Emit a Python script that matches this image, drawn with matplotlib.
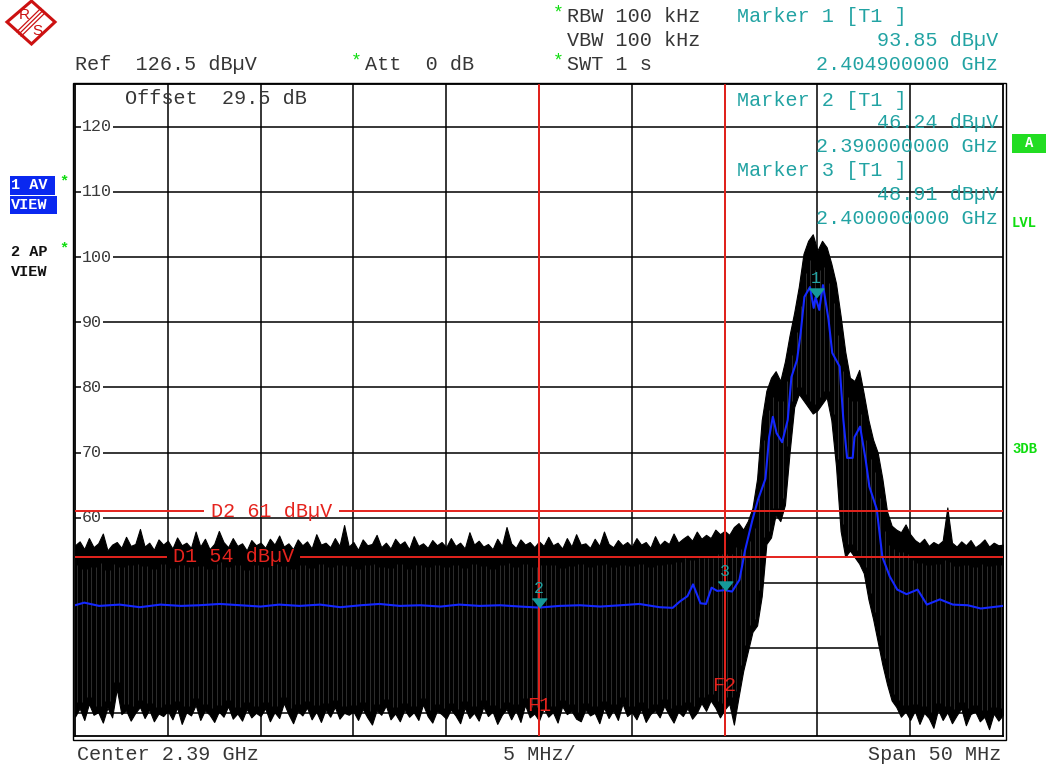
import matplotlib
matplotlib.use("Agg")
import matplotlib.pyplot as plt
import matplotlib.transforms as mtransforms
from matplotlib.patches import Polygon, Rectangle
from matplotlib.lines import Line2D
import numpy as np

W, H = 1048, 768
MONO = "Liberation Mono"
TEAL = "#22a3a3"
RED = "#e5231d"
GREEN = "#10dd10"
BLUE = "#1428ff"
INK = "#363636"

# sweep settings
f_start, f_stop = 2.365, 2.415          # GHz, center 2.39 / span 50 MHz
ref_level, bottom_level = 126.5, 26.5   # dBuV

# trace 2 (AP, max-hold) upper / lower envelope, 0.25 MHz per point
ap_hi = [
    55.8, 56.4, 55.2, 56.9, 55.5, 56.1, 57.6, 55.0, 55.9, 56.3, 55.4, 57.1, 55.7, 56.0, 58.3, 55.6, 56.2, 55.1, 56.7, 55.9,
    56.5, 55.3, 57.0, 55.8, 56.2, 55.4, 57.9, 55.6, 56.8, 55.2, 56.0, 58.0, 56.3, 55.5, 56.9, 55.7, 56.1, 55.0, 56.6, 55.8,
    56.2, 55.4, 56.8, 55.9, 57.3, 55.6, 56.1, 55.2, 56.7, 55.8, 56.4, 55.3, 57.5, 55.9, 56.2, 55.5, 56.9, 55.7, 58.9, 55.6,
    56.3, 55.1, 56.7, 55.8, 56.0, 57.4, 55.5, 56.2, 55.3, 56.8, 55.9, 56.4, 55.2, 57.2, 55.7, 56.1, 55.4, 56.6, 55.8, 56.3,
    55.5, 56.9, 55.7, 56.2, 55.3, 57.8, 55.9, 56.5, 55.6, 56.0, 55.2, 56.8, 55.7, 58.6, 56.1, 55.4, 56.7, 55.9, 56.3, 55.5,
    56.4, 55.7, 57.1, 55.8, 56.2, 55.3, 56.9, 55.6, 57.5, 55.9, 56.1, 55.4, 56.8, 55.7, 57.9, 56.0, 55.5, 56.6, 55.8, 56.3,
    55.6, 56.9, 55.9, 56.3, 55.4, 57.2, 55.8, 56.5, 56.0, 57.6, 56.2, 56.8, 57.3, 56.5, 57.9, 56.8, 57.4, 56.9, 58.2, 57.5,
    58.0, 57.4, 58.6, 59.2, 58.2, 59.5, 61.5, 66.0, 75.0, 79.5, 81.5, 82.5, 81.0, 84.0, 88.0, 91.5, 95.5, 100.5, 102.5, 103.5,
    101.0, 102.5, 101.5, 99.0, 96.0, 91.0, 85.5, 81.5, 81.0, 82.7, 79.0, 75.0, 72.0, 70.0, 66.0, 61.0, 58.8, 58.2, 57.8, 59.0,
    57.5, 56.6, 56.1, 56.8, 55.7, 56.3, 55.9, 56.5, 61.6, 56.2, 55.6, 56.4, 55.8, 56.6, 55.5, 56.0, 56.7, 55.6, 56.2, 55.8,
    55.9,
]
ap_lo = [
    29.5, 30.8, 29.0, 31.5, 29.8, 30.2, 28.6, 30.9, 29.4, 33.8, 29.9, 30.5, 28.9, 30.1, 31.0, 29.3, 30.6, 28.8, 30.0, 29.6,
    30.4, 29.1, 30.9, 28.4, 30.2, 29.7, 31.3, 29.0, 30.5, 29.8, 28.7, 30.3, 29.5, 31.1, 29.2, 30.0, 28.9, 30.7, 29.4, 30.1,
    29.6, 30.8, 28.8, 30.2, 29.3, 31.6, 29.9, 28.5, 30.4, 29.7, 30.9, 29.1, 30.3, 28.7, 30.6, 29.5, 31.0, 29.2, 30.1, 29.8,
    30.3, 29.0, 30.7, 29.4, 28.3, 30.5, 29.8, 31.2, 29.1, 30.0, 28.8, 30.6, 29.5, 30.2, 29.0, 31.4, 29.6, 28.6, 30.4, 29.9,
    29.2, 30.6, 29.7, 28.5, 30.9, 29.3, 30.1, 28.9, 31.0, 29.6, 30.3, 28.4, 29.8, 30.7, 29.1, 30.5, 28.7, 31.3, 29.4, 30.0,
    28.9, 30.8, 29.5, 30.2, 28.6, 31.1, 29.9, 30.4, 29.2, 28.8, 30.6, 29.7, 30.1, 28.5, 30.9, 29.3, 30.5, 29.0, 31.5, 29.6,
    30.2, 29.1, 30.7, 28.7, 29.9, 30.5, 29.4, 31.2, 29.8, 28.6, 30.3, 29.6, 30.8, 29.2, 30.1, 31.6, 30.4, 32.0, 30.9, 29.4,
    30.6, 31.5, 28.3, 32.5, 36.5, 39.5, 42.5, 43.5, 48.0, 56.0, 57.0, 60.5, 59.5, 62.0, 70.0, 77.0, 79.0, 78.0, 77.0, 76.0,
    76.5, 77.5, 78.5, 75.0, 68.0, 58.0, 54.0, 55.0, 54.0, 53.0, 51.5, 47.5, 44.5, 41.0, 37.5, 34.5, 32.0, 31.0, 29.5, 30.3,
    29.0, 30.4, 28.4, 30.1, 29.3, 27.8, 30.6, 29.0, 30.2, 28.5, 29.7, 30.8, 28.2, 29.9, 30.3, 28.8, 29.5, 27.6, 30.0, 28.9,
    29.8,
]
ap_freq = np.linspace(f_start, f_stop, len(ap_hi))

# trace 1 (AV)
av_freq = [
    2.3650, 2.3655, 2.3663, 2.3674, 2.3685, 2.3696, 2.3707, 2.3717, 2.3728, 2.3739,
    2.3750, 2.3760, 2.3771, 2.3782, 2.3793, 2.3804, 2.3814, 2.3825, 2.3836, 2.3847,
    2.3857, 2.3868, 2.3879, 2.3890, 2.3900, 2.3911, 2.3922, 2.3933, 2.3944, 2.3954,
    2.3965, 2.3972, 2.3976, 2.3980, 2.3983, 2.3987, 2.3990, 2.3993, 2.3996, 2.4000,
    2.4004, 2.4008, 2.4011, 2.4015, 2.4018, 2.4022, 2.4024, 2.4026, 2.4028, 2.4031,
    2.4034, 2.4036, 2.4039, 2.4041, 2.4043, 2.4046, 2.4048, 2.4049, 2.4051, 2.4053,
    2.4056, 2.4058, 2.4062, 2.4064, 2.4066, 2.4069, 2.4070, 2.4073, 2.4076, 2.4078,
    2.4082, 2.4085, 2.4089, 2.4093, 2.4098, 2.4104, 2.4109, 2.4116, 2.4123, 2.4131,
    2.4138, 2.4150,
]
av_level = [
    46.6, 47.0, 46.5, 46.7, 46.3, 46.7, 46.5, 46.6, 46.8, 46.6,
    46.4, 46.7, 46.5, 46.7, 46.3, 46.6, 46.8, 46.5, 46.6, 46.4,
    46.7, 46.5, 46.6, 46.4, 46.24, 46.5, 46.6, 46.4, 46.6, 46.8,
    46.3, 46.2, 47.2, 48.0, 49.8, 46.9, 46.8, 49.3, 48.8, 48.91,
    48.7, 50.5, 55.0, 59.7, 62.8, 66.0, 72.4, 75.5, 73.0, 71.6,
    75.0, 81.6, 84.2, 88.4, 93.9, 95.4, 92.2, 93.85, 91.9, 95.7,
    90.4, 85.3, 83.2, 75.0, 69.2, 69.2, 72.4, 74.0, 68.9, 64.8,
    61.3, 54.0, 51.0, 49.0, 48.3, 49.0, 46.7, 47.5, 46.7, 46.6,
    46.1, 46.5,
]

# markers, display lines, frequency lines
mk_freq = [2.4049, 2.3900, 2.4000]
mk_level = [93.85, 46.24, 48.91]
d_lines = [54, 61]
f_lines = [2.390, 2.400]
y_labels = [60, 70, 80, 90, 100, 110, 120]


def px(x, y):
    return x / W, 1 - y / H


def ftext(x, y, s, color=INK, size=14.5, ha="left", weight="normal", **kw):
    fx, fy = px(x, y)
    return fig.text(fx, fy, s, color=color, fontsize=size, ha=ha, va="center",
                    family=MONO, weight=weight, **kw)


fig = plt.figure(figsize=(W / 100, H / 100), dpi=100)
fig.patch.set_facecolor("white")

ax = fig.add_axes([75 / W, 1 - 736.3 / H, 928 / W, 652 / H])
ax.set_xlim(f_start, f_stop)
ax.set_ylim(bottom_level, ref_level)
ax.set_xticks(np.arange(1, 10) * 0.005 + f_start)
ax.set_yticks(range(30, 121, 10))
ax.tick_params(length=0, labelleft=False, labelbottom=False)
ax.set_axisbelow(True)
ax.grid(color="black", lw=1.1)
for sp in ax.spines.values():
    sp.set_linewidth(1.3)

# outer frame line
fig.add_artist(Rectangle(px(72.5, 739.5), 933.5 / W, 657 / H, transform=fig.transFigure,
                         fill=False, ec="black", lw=1.0))

# level labels on the grid
for v in y_labels:
    ax.text(0.0075, v, str(v), transform=ax.get_yaxis_transform(), ha="left", va="center",
            family=MONO, fontsize=12, color="#3a3a3a", zorder=1,
            bbox=dict(fc="white", ec="none", pad=1.0))

# max-hold trace
ax.fill_between(ap_freq, ap_lo, ap_hi, color="black", lw=0.8, zorder=2)
mid = (ap_freq[:-1] + ap_freq[1:]) / 2
top = np.minimum(ap_hi[:-1], ap_hi[1:]) - 3
bot = np.maximum(ap_lo[:-1], ap_lo[1:]) + 1
keep = top > bot
ax.vlines(mid[keep], bot[keep], top[keep], color="#3e3e3e", lw=0.5, zorder=2.1)

# average trace
ax.plot(av_freq, av_level, color=BLUE, lw=1.5, zorder=4)

# display lines with their labels
d_gap = {61: (2.3719, 2.3793, "D2 61 dBµV"), 54: (2.3699, 2.3772, "D1 54 dBµV")}
for d in d_lines:
    g0, g1, lab = d_gap[d]
    ax.plot([f_start, g0], [d, d], color=RED, lw=1.4, zorder=5)
    ax.plot([g1, f_stop], [d, d], color=RED, lw=1.4, zorder=5)
    ax.text((g0 + g1) / 2, d, lab, ha="center", va="center", color=RED,
            family=MONO, fontsize=14.5, zorder=5)

# frequency lines
f_lab_y = [31.3, 34.3]
for n, (fl, ly) in enumerate(zip(f_lines, f_lab_y), start=1):
    ax.axvline(fl, color=RED, lw=1.4, zorder=5)
    ax.text(fl, ly, f"F{n}", ha="center", va="center", color=RED,
            family=MONO, fontsize=14.5, zorder=5)

# markers
tri = [(-1, 0.62), (1, 0.62), (0, -0.62)]
tri_tf = mtransforms.offset_copy(ax.transData, fig=fig, x=0, y=4.5, units="dots")
num_tf = mtransforms.offset_copy(ax.transData, fig=fig, x=0, y=19, units="dots")
for n, (mf, ml) in enumerate(zip(mk_freq, mk_level), start=1):
    ax.plot([mf], [ml], marker=tri, ms=10.5, color="#159999", mec="#159999",
            transform=tri_tf, zorder=6)
    ax.text(mf, ml, str(n), transform=num_tf, ha="center", va="center",
            color=TEAL, family=MONO, fontsize=12, zorder=6)

# header
ftext(75, 65, "Ref  126.5 dBµV")
ftext(351, 61, "*", color=GREEN, size=13)
ftext(365, 65, "Att  0 dB")
ftext(553, 13, "*", color=GREEN, size=13)
ftext(567, 17, "RBW 100 kHz")
ftext(567, 41, "VBW 100 kHz")
ftext(553, 61, "*", color=GREEN, size=13)
ftext(567, 65, "SWT 1 s")
ftext(125, 98, "Offset  29.5 dB")

# marker readouts
ftext(737, 17, "Marker 1 [T1 ]", color=TEAL)
ftext(998, 41, f"{mk_level[0]:.2f} dBµV", color=TEAL, ha="right")
ftext(998, 65, f"{mk_freq[0]:.9f} GHz", color=TEAL, ha="right")
ftext(737, 100, "Marker 2 [T1 ]", color=TEAL)
ftext(998, 123, f"{mk_level[1]:.2f} dBµV", color=TEAL, ha="right")
ftext(998, 147, f"{mk_freq[1]:.9f} GHz", color=TEAL, ha="right")
ftext(737, 171, "Marker 3 [T1 ]", color=TEAL)
ftext(998, 195, f"{mk_level[2]:.2f} dBµV", color=TEAL, ha="right")
ftext(998, 219, f"{mk_freq[2]:.9f} GHz", color=TEAL, ha="right")

# footer
ftext(77, 754, "Center 2.39 GHz")
ftext(503, 754, "5 MHz/")
ftext(1001, 754, "Span 50 MHz", ha="right")

# trace info on the left
fig.add_artist(Rectangle(px(10, 195), 45 / W, 19 / H, transform=fig.transFigure,
                         fc="#0a28f0", ec="none"))
fig.add_artist(Rectangle(px(10, 214), 47 / W, 18 / H, transform=fig.transFigure,
                         fc="#0a28f0", ec="none"))
ftext(11, 185, "1 AV", color="white", size=11, weight="bold")
ftext(11, 205, "VIEW", color="white", size=11, weight="bold")
ftext(59, 181, "*", color=GREEN, size=11, weight="bold")
ftext(11, 252, "2 AP", color="#111111", size=11, weight="bold")
ftext(11, 272, "VIEW", color="#111111", size=11, weight="bold")
ftext(59, 248, "*", color=GREEN, size=11, weight="bold")

# status labels on the right
fig.add_artist(Rectangle(px(1012, 153), 34 / W, 19 / H, transform=fig.transFigure,
                         fc="#22dd22", ec="none"))
ftext(1029, 143, "A", color="white", size=10, weight="bold", ha="center")
ftext(1012, 223, "LVL", color=GREEN, size=10, weight="bold")
ftext(1012, 449, "3DB", color=GREEN, size=10, weight="bold")

# logo: diamond, three stripes, R and S
LOGO = "#cc1111"
logo = [px(31.5, 1), px(55, 22), px(31.5, 44), px(7, 22)]
fig.add_artist(Polygon(logo, closed=True, transform=fig.transFigure,
                       fc="white", ec=LOGO, lw=2.2))
for off in (-2.2, 0, 2.2):
    a = px(19 + off, 34 + off)
    b = px(43 + off, 10.5 + off)
    fig.add_artist(Line2D([a[0], b[0]], [a[1], b[1]], transform=fig.transFigure,
                          color=LOGO, lw=0.9))
rx, ry = px(24.5, 15)
fig.text(rx, ry, "R", color=LOGO, fontsize=11, ha="center", va="center",
         family="Liberation Sans")
sx, sy = px(37.5, 31)
fig.text(sx, sy, "S", color=LOGO, fontsize=11, ha="center", va="center",
         family="Liberation Sans")

fig.savefig("out.png", dpi=100)
